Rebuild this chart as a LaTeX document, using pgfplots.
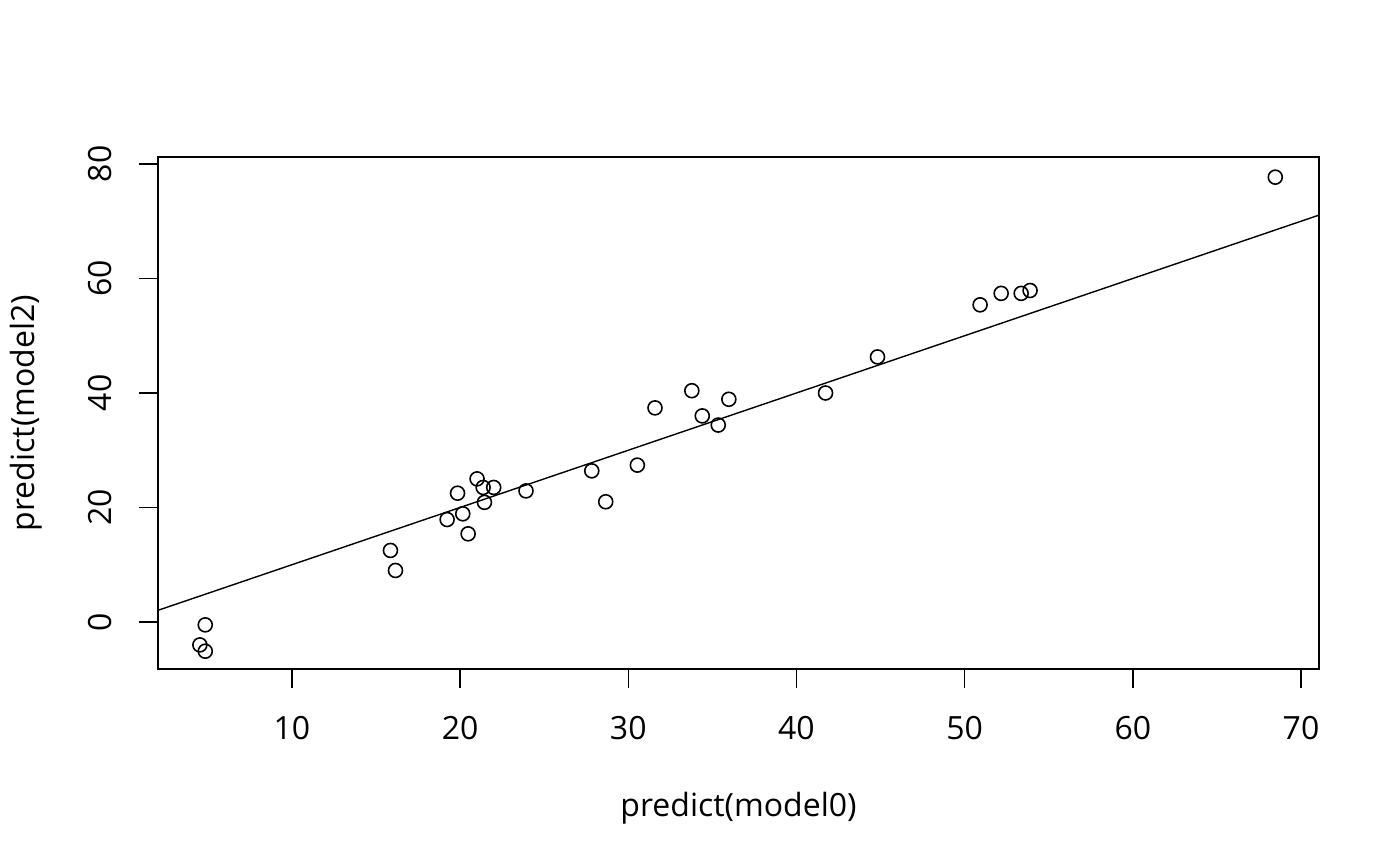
\documentclass[border=0pt]{standalone}
\usepackage{fontspec}
\setmainfont{Open Sans}
\usepackage{pgfplots}
\pgfplotsset{compat=1.18}
\begin{document}
\begin{tikzpicture}
\path[use as bounding box] (-79pt,-98.5pt) rectangle (621pt,334.5pt);
\begin{axis}[
  at={(0pt,0pt)}, anchor=south west,
  scale only axis, width=580.5pt, height=256pt,
  xmin=2.04, xmax=71.07, ymin=-8.21, ymax=81.22,
  xtick={10,20,30,40,50,60,70}, ytick={0,20,40,60,80},
  tick align=outside, major tick length=9.5pt,
  xtick pos=bottom, ytick pos=left,
  axis line style={line width=0.7pt},
  every tick/.style={black, line width=0.7pt},
  /pgf/number format/assume math mode=true,
  tick label style={font=\fontsize{16}{19}\selectfont},
  xticklabel style={anchor=center, yshift=-20pt},
  yticklabel style={anchor=center, xshift=-19.5pt, rotate=90},
  every axis x label/.style={at={(axis description cs:0.5,-0.28828)}, anchor=base, font=\fontsize{16}{19}\selectfont},
  every axis y label/.style={at={(axis description cs:-0.10594,0.5)}, rotate=90, anchor=base, font=\fontsize{16}{19}\selectfont},
  xlabel={predict(model0)}, ylabel={predict(model2)},
  clip=true,
]
\addplot[only marks, mark=o, mark size=3.5pt, line width=0.8pt, black] coordinates {
(68.47,77.7) (53.89,57.9) (53.36,57.4) (52.17,57.4) (50.92,55.4)
(44.82,46.3) (41.73,40.0) (35.98,38.9) (33.78,40.4) (34.40,36.0)
(35.35,34.4) (31.59,37.4) (30.54,27.4) (27.83,26.4) (28.66,21.0)
(23.92,22.9) (22.00,23.5) (21.37,23.5) (21.01,25.0) (19.85,22.5)
(21.45,20.9) (20.16,18.9) (19.23,17.9) (20.48,15.4) (15.86,12.5)
(16.16,9.0) (4.85,-0.5) (4.53,-4.0) (4.85,-5.1)
};
\addplot[black, line width=0.7pt] coordinates {(2.04,2.04) (71.07,71.07)};
\end{axis}
\end{tikzpicture}
\end{document}
